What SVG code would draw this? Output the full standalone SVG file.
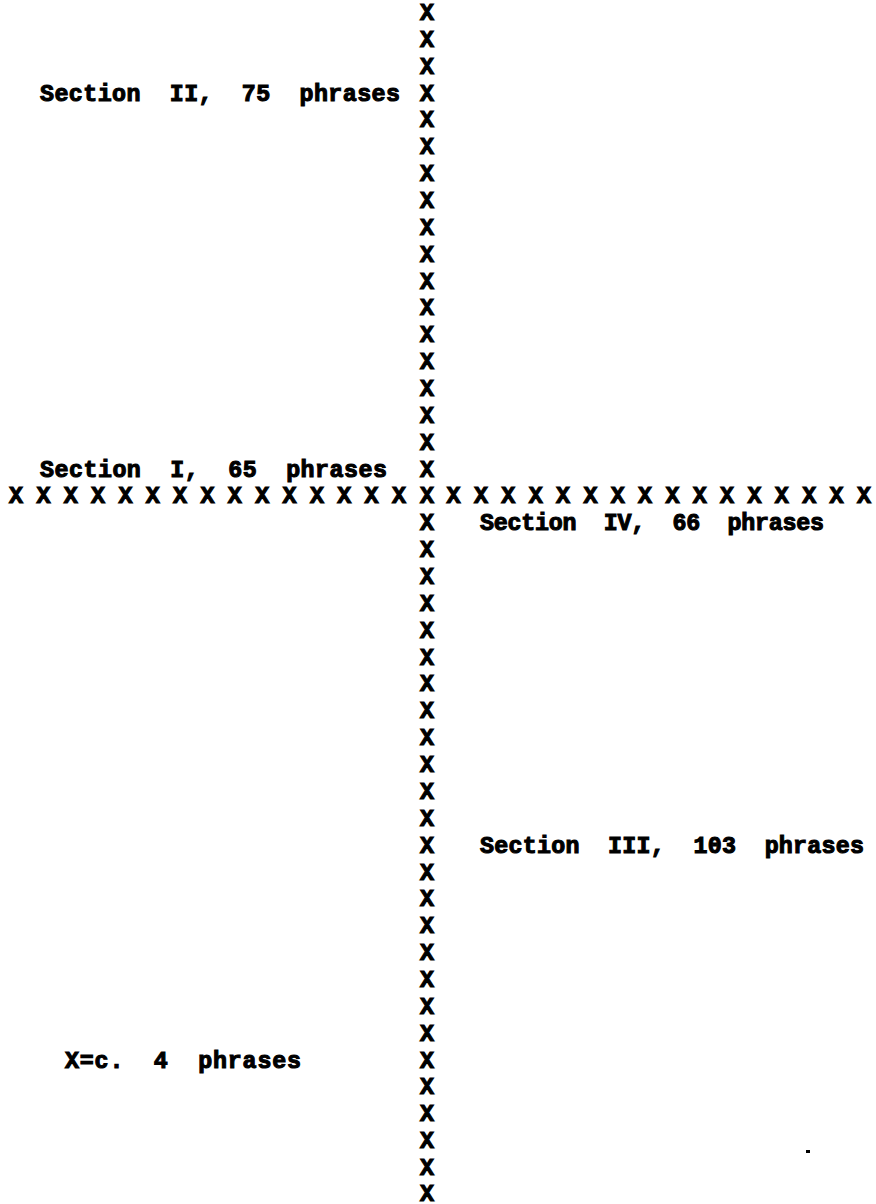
<svg xmlns="http://www.w3.org/2000/svg" width="876" height="1204" viewBox="0 0 876 1204">
<style>
.t{font-family:"Liberation Mono","DejaVu Sans Mono",monospace;font-weight:bold;font-size:23.3px;fill:#000;stroke:#000;stroke-width:1.1px}
.x{text-anchor:middle}
.l{white-space:pre}
</style>
<rect width="876" height="1204" fill="#fff"/>
<g id="vertical-axis" class="t x">
<text x="427" y="20">X</text>
<text x="427" y="47">X</text>
<text x="427" y="74">X</text>
<text x="427" y="101">X</text>
<text x="427" y="127">X</text>
<text x="427" y="154">X</text>
<text x="427" y="181">X</text>
<text x="427" y="208">X</text>
<text x="427" y="235">X</text>
<text x="427" y="262">X</text>
<text x="427" y="289">X</text>
<text x="427" y="315">X</text>
<text x="427" y="342">X</text>
<text x="427" y="369">X</text>
<text x="427" y="396">X</text>
<text x="427" y="423">X</text>
<text x="427" y="450">X</text>
<text x="427" y="477">X</text>
<text x="427" y="530">X</text>
<text x="427" y="557">X</text>
<text x="427" y="584">X</text>
<text x="427" y="611">X</text>
<text x="427" y="638">X</text>
<text x="427" y="665">X</text>
<text x="427" y="691">X</text>
<text x="427" y="718">X</text>
<text x="427" y="745">X</text>
<text x="427" y="772">X</text>
<text x="427" y="799">X</text>
<text x="427" y="826">X</text>
<text x="427" y="853">X</text>
<text x="427" y="880">X</text>
<text x="427" y="906">X</text>
<text x="427" y="933">X</text>
<text x="427" y="960">X</text>
<text x="427" y="987">X</text>
<text x="427" y="1014">X</text>
<text x="427" y="1041">X</text>
<text x="427" y="1068">X</text>
<text x="427" y="1094">X</text>
<text x="427" y="1121">X</text>
<text x="427" y="1148">X</text>
<text x="427" y="1175">X</text>
<text x="427" y="1200.5">X</text>
</g>
<g id="horizontal-axis" class="t x">
<text x="16" y="503">X</text>
<text x="43.4" y="503">X</text>
<text x="70.7" y="503">X</text>
<text x="98.1" y="503">X</text>
<text x="125.4" y="503">X</text>
<text x="152.8" y="503">X</text>
<text x="180.1" y="503">X</text>
<text x="207.5" y="503">X</text>
<text x="234.8" y="503">X</text>
<text x="262.2" y="503">X</text>
<text x="289.5" y="503">X</text>
<text x="316.9" y="503">X</text>
<text x="344.2" y="503">X</text>
<text x="371.6" y="503">X</text>
<text x="398.9" y="503">X</text>
<text x="427" y="503">X</text>
<text x="453.6" y="503">X</text>
<text x="481" y="503">X</text>
<text x="508.3" y="503">X</text>
<text x="535.7" y="503">X</text>
<text x="563" y="503">X</text>
<text x="590.4" y="503">X</text>
<text x="617.7" y="503">X</text>
<text x="645.1" y="503">X</text>
<text x="672.4" y="503">X</text>
<text x="699.8" y="503">X</text>
<text x="727.1" y="503">X</text>
<text x="754.5" y="503">X</text>
<text x="781.8" y="503">X</text>
<text x="809.2" y="503">X</text>
<text x="836.5" y="503">X</text>
<text x="863.9" y="503">X</text>
</g>
<g id="labels" class="t l">
<text id="section-2" xml:space="preserve" x="40" y="101" textLength="360" lengthAdjust="spacing">Section  II,  75  phrases</text>
<text id="section-1" xml:space="preserve" x="40" y="477" textLength="347" lengthAdjust="spacing">Section  I,  65  phrases</text>
<text id="section-4" xml:space="preserve" x="480" y="530" textLength="344" lengthAdjust="spacing">Section  IV,  66  phrases</text>
<text id="section-3" xml:space="preserve" x="480" y="853" textLength="384" lengthAdjust="spacing">Section  III,  103  phrases</text>
<text id="legend" xml:space="preserve" x="65" y="1068" textLength="236" lengthAdjust="spacing">X=c.  4  phrases</text>
</g>
<rect id="speck" x="806" y="1150" width="4" height="3" fill="#000"/>
</svg>
